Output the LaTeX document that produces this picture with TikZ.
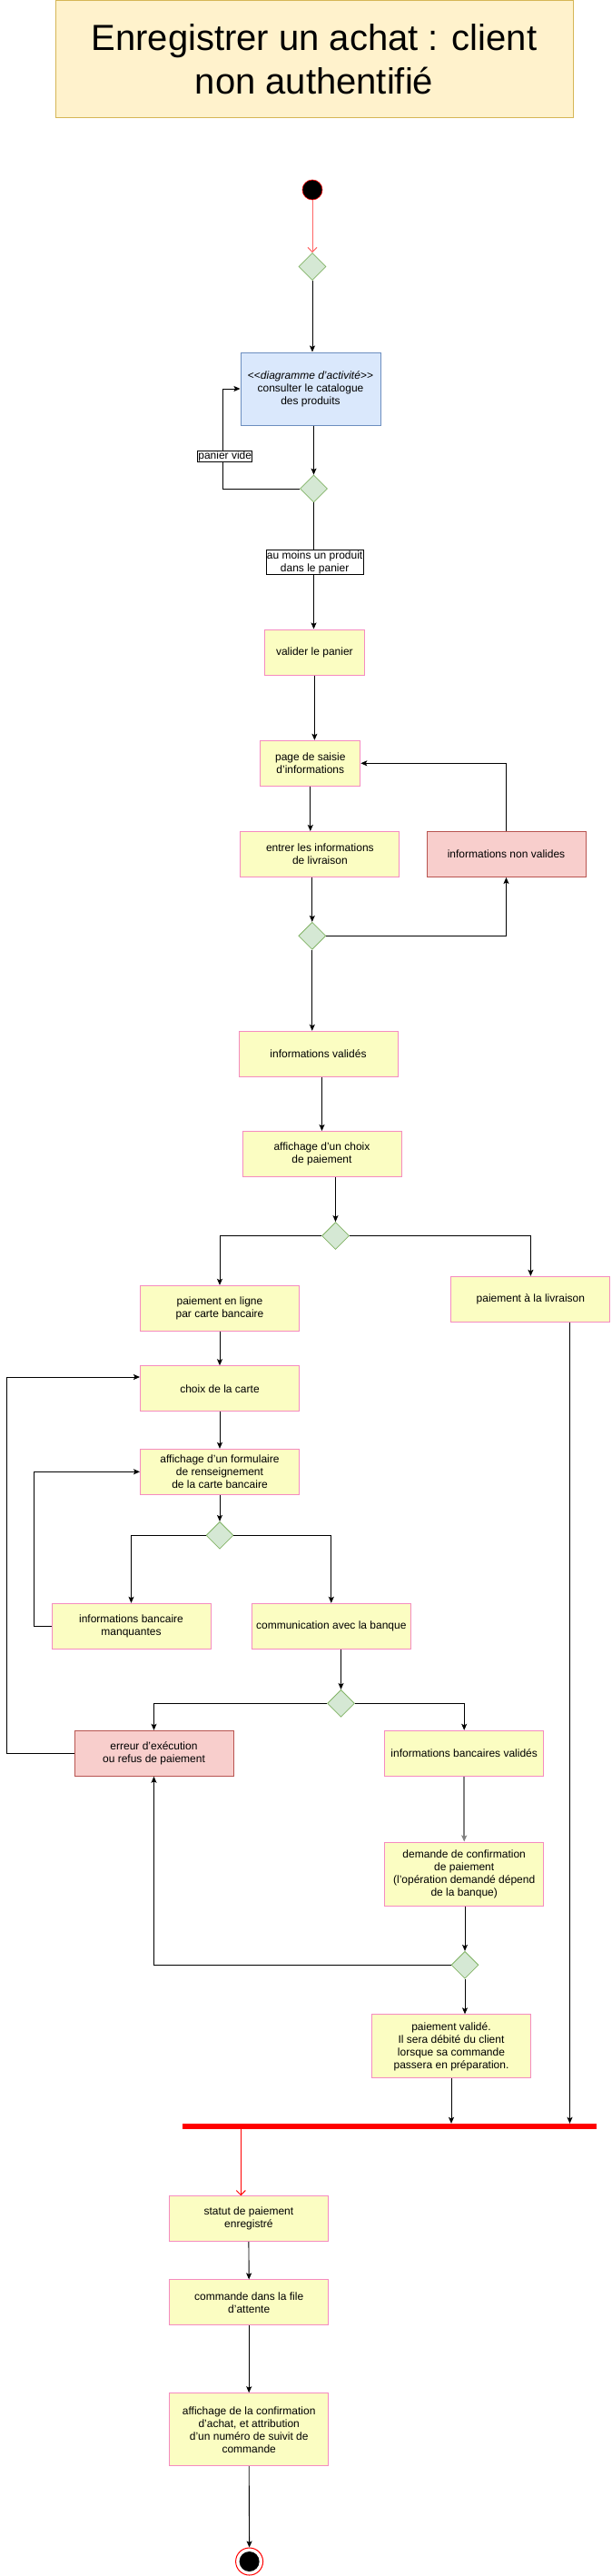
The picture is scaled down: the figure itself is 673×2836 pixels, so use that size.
\documentclass[tikz,border=0pt]{standalone}
\usepackage{fontspec}
\setmainfont{Liberation Sans}
\usetikzlibrary{arrows.meta,shapes.geometric}
\definecolor{actfill}{HTML}{FBFDC2}
\definecolor{actdraw}{HTML}{F58BC0}
\definecolor{errfill}{HTML}{F8CECC}
\definecolor{errdraw}{HTML}{B85450}
\definecolor{catfill}{HTML}{DAE8FC}
\definecolor{catdraw}{HTML}{6C8EBF}
\definecolor{decfill}{HTML}{D5E8D4}
\definecolor{decdraw}{HTML}{82B366}
\definecolor{titlefill}{HTML}{FFF2CC}
\definecolor{titledraw}{HTML}{D6B656}
\definecolor{startred}{HTML}{FF6666}
\tikzset{
  act/.style={draw=actdraw, fill=actfill, line width=1pt, minimum width=175pt, minimum height=50pt,
    inner sep=0pt, align=center, font=\fontsize{12}{14}\selectfont},
  err/.style={act, draw=errdraw, fill=errfill},
  dec/.style={diamond, draw=decdraw, fill=decfill, line width=0.8pt, minimum width=30pt, minimum height=30pt,
    inner sep=0pt, aspect=1},
  flow/.style={draw=black, line width=0.9pt, -{Stealth[length=7pt,width=6pt,inset=1.5pt]}},
  redflow/.style={line width=1pt, -{Straight Barb[length=5pt,width=10pt]}},
  lbl/.style={draw=black, fill=white, line width=0.8pt, inner sep=0.6pt, align=center,
    font=\fontsize{12}{14}\selectfont},
}
\begin{document}
\begin{tikzpicture}[x=1pt,y=-1pt]
\useasboundingbox (0,0) rectangle (673,2836);

% title
\node[draw=titledraw, fill=titlefill, line width=1pt, minimum width=570pt, minimum height=129pt,
  inner sep=0pt, align=center, font=\fontsize{40}{48}\selectfont] (title) at (346,65)
  {Enregistrer un achat : client\\non authentifié};

% start / end
\node[circle, fill=black, draw=red, line width=0.6pt, minimum size=22pt, inner sep=0pt] (start) at (344,209) {};
\node[circle, draw=red, fill=white, line width=1pt, minimum size=30pt, inner sep=0pt] (end) at (274.6,2820) {};
\node[circle, fill=black, minimum size=22pt, inner sep=0pt] (endin) at (274.6,2820) {};

% decisions
\node[dec] (d1) at (344,293.5) {};
\node[dec] (d2) at (345.5,538) {};
\node[dec] (d3) at (343.8,1030.3) {};
\node[dec] (d4) at (369.5,1360.5) {};
\node[dec] (d5) at (242,1690.3) {};
\node[dec] (d6) at (375.5,1875.3) {};
\node[dec] (d7) at (512,2163.3) {};

% activities
\node[act, fill=catfill, draw=catdraw, minimum width=154pt, minimum height=80pt] (cat) at (342,428)
  {<{}<\textit{diagramme d'activité}>{}>\\consulter le catalogue\\des produits};
\node[act, minimum width=110pt] (valider) at (346.4,718) {valider le panier};
\node[act, minimum width=110pt] (saisie) at (341.8,840.3) {page de saisie\\d'informations};
\node[act] (entrer) at (352.4,940.5) {entrer les informations\\de livraison};
\node[err] (nonval) at (557.5,940.5) {informations non valides};
\node[act] (infval) at (350.5,1160.3) {informations validés};
\node[act] (choixp) at (354.5,1270.5) {affichage d'un choix\\de paiement};
\node[act] (enligne) at (242,1440.3) {paiement en ligne\\par carte bancaire};
\node[act] (livr) at (584.4,1430.3) {paiement à la livraison};
\node[act] (carte) at (242,1528.7) {choix de la carte};
\node[act] (form) at (242,1620.3) {affichage d'un formulaire\\de renseignement\\de la carte bancaire};
\node[act] (manq) at (144.5,1790.3) {informations bancaire\\manquantes};
\node[act] (comm) at (364.8,1790.3) {communication avec la banque};
\node[err] (erreur) at (169.5,1930.3) {erreur d'exécution\\ou refus de paiement};
\node[act] (bval) at (511.2,1930.3) {informations bancaires validés};
\node[act, minimum height=70pt] (demande) at (511.2,2063)
  {demande de confirmation\\de paiement\\(l'opération demandé dépend\\de la banque)};
\node[act, minimum height=70pt] (pval) at (497,2252.8)
  {paiement validé.\\Il sera débité du client\\lorsque sa commande\\passera en préparation.};
\node[fill=red, minimum width=455.7pt, minimum height=6pt, inner sep=0pt] (bar) at (429.2,2341) {};
\node[act] (statut) at (273.9,2442.7) {statut de paiement\\enregistré};
\node[act] (file) at (274.2,2534.9) {commande dans la file\\d'attente};
\node[act, minimum height=80pt] (conf) at (274.2,2674.7)
  {affichage de la confirmation\\d'achat, et attribution\\d'un numéro de suivit de\\commande};

% connectors
\draw[redflow, draw=startred] (start) -- (d1.north);
\draw[flow] (d1.south) -- (d1.south |- cat.north);
\draw[flow] (d2.north |- cat.south) -- (d2.north);
\draw[flow] (d2.west) -| ([xshift=-19.5pt]cat.west) -- (cat.west);
\draw[flow] (d2.south) -- (d2.south |- valider.north);
\draw[flow] (valider.south) -- (valider.south |- saisie.north);
\draw[flow] (saisie.south) -- (saisie.south |- entrer.north);
\draw[flow] (d3.north |- entrer.south) -- (d3.north);
\draw[flow] (d3.east) -| (nonval.south);
\draw[flow] (nonval.north) |- (saisie.east);
\draw[flow] (d3.south) -- (d3.south |- infval.north);
\draw[flow] (choixp.north |- infval.south) -- (choixp.north);
\draw[flow] (d4.north |- choixp.south) -- (d4.north);
\draw[flow] (d4.west) -| (enligne.north);
\draw[flow] (d4.east) -| (livr.north);
\draw[flow] (enligne.south) -- (carte.north);
\draw[flow] (carte.south) -- (form.north);
\draw[flow] (form.south) -- (d5.north);
\draw[flow] (d5.west) -| (manq.north);
\draw[flow] (d5.east) -| (comm.north);
\draw[flow] (manq.west) -- ++(-18.9,0) |- (form.west);
\draw[flow] (d6.north |- comm.south) -- (d6.north);
\draw[flow] (d6.west) -| (erreur.north);
\draw[flow] (d6.east) -| (bval.north);
\coordinate (loopc) at (7.3,1516);
\draw[flow] (erreur.west) -| (loopc) -- (carte.west |- loopc);
\draw[flow, draw=gray, line width=1.5pt] (bval.south) -- (bval.south |- demande.north);
\draw[flow] (d7.north |- demande.south) -- (d7.north);
\draw[flow] (d7.west) -| (erreur.south);
\draw[flow] (d7.south) -- (d7.south |- pval.north);
\draw[flow] (pval.south) -- (pval.south |- bar.north);
\coordinate (lv) at ([xshift=43.1pt]livr.south);
\draw[flow] (lv) -- (lv |- bar.north);
\coordinate (rs) at (265.3,2344);
\draw[redflow, draw=red] (rs) -- (rs |- statut.north);
\draw[flow] (statut.south) -- (file.north);
\draw[flow] (file.south) -- (conf.north);
\draw[flow] (conf.south) -- (end.north);

% guard labels
\node[lbl] (lpv) at (247.7,502.5) {panier vide};
\node[lbl] (lmp) at (346.6,619) {au moins un produit\\dans le panier};
\end{tikzpicture}
\end{document}
